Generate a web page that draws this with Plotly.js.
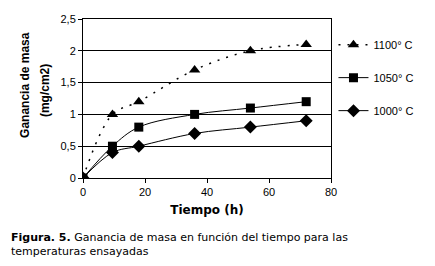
<!DOCTYPE html>
<html>
<head>
<meta charset="utf-8">
<script src="https://cdn.plot.ly/plotly-3.0.1.min.js"></script>
<style>html,body{margin:0;padding:0;background:#fff;}#chart{width:435px;height:266px;}</style>
</head>
<body>
<div id="chart"></div>
<script>
const tiempo = [0, 9.5, 18, 36, 54, 72];
const masa1100 = [0, 1.0, 1.2, 1.7, 2.0, 2.1];
const masa1050 = [0, 0.5, 0.8, 1.0, 1.1, 1.2];
const masa1000 = [0, 0.4, 0.5, 0.7, 0.8, 0.9];
const seriesNames = ['1100° C', '1050° C', '1000° C'];
const yTicks = [0, 0.5, 1, 1.5, 2, 2.5];
const yTickText = ['0', '0,5', '1', '1,5', '2', '2,5'];
const xTicks = [0, 20, 40, 60, 80];
const yTitleLines = ['Ganancia de masa', '(mg/cm2)'];

const traces = [
  {x: tiempo, y: masa1100, name: seriesNames[0], legendgroup: 'a', mode: 'lines+markers',
   line: {color: '#000', width: 1.5, dash: '2px,7px', shape: 'spline', smoothing: 1},
   marker: {symbol: 'triangle-up', size: 10, color: '#000'}},
  {x: tiempo, y: masa1050, name: seriesNames[1], legendgroup: 'b', mode: 'lines+markers',
   line: {color: '#000', width: 1, shape: 'spline', smoothing: 1},
   marker: {symbol: 'square', size: 9, color: '#000'}},
  {x: tiempo, y: masa1000, name: seriesNames[2], legendgroup: 'c', mode: 'lines+markers',
   line: {color: '#000', width: 1, shape: 'spline', smoothing: 1},
   marker: {symbol: 'diamond', size: 10, color: '#000'}}
];

const titleFont = {family: 'Liberation Sans, Arial, sans-serif', size: 12, color: '#000'};

const layout = {
  width: 435, height: 266,
  margin: {l: 83, r: 104, t: 19, b: 88},
  paper_bgcolor: '#fff', plot_bgcolor: '#fff',
  font: {family: 'Liberation Sans, Arial, sans-serif', size: 11, color: '#000'},
  showlegend: true,
  legend: {x: 1.01, y: 0.93, xanchor: 'left', yanchor: 'top', tracegroupgap: 14,
           font: {size: 11}, bgcolor: 'rgba(0,0,0,0)'},
  xaxis: {range: [0, 80], tickvals: xTicks, ticks: 'outside', ticklen: 4, tickcolor: '#000',
          showline: true, linecolor: '#000', linewidth: 1, mirror: true, showgrid: false, zeroline: false,
          title: {text: '<b>Tiempo (h)</b>', font: {family: 'DejaVu Sans, Verdana, sans-serif', size: 12}, standoff: 8}},
  yaxis: {range: [0, 2.5], tickvals: yTicks, ticktext: yTickText, ticks: 'outside', ticklen: 4, tickcolor: '#000',
          showline: true, linecolor: '#000', linewidth: 1, mirror: true,
          showgrid: true, gridcolor: '#000', gridwidth: 1, zeroline: false},
  annotations: [
    {xref: 'paper', yref: 'paper', x: -0.234, y: 0.585, xanchor: 'center', yanchor: 'middle', textangle: -90,
     showarrow: false, font: titleFont, text: '<b>' + yTitleLines[0] + '</b>'},
    {xref: 'paper', yref: 'paper', x: -0.153, y: 0.547, xanchor: 'center', yanchor: 'middle', textangle: -90,
     showarrow: false, font: titleFont, text: '<b>' + yTitleLines[1] + '</b>'},
    {xref: 'paper', yref: 'paper', x: -0.298, y: -0.32, xanchor: 'left', yanchor: 'top', showarrow: false, align: 'left',
     font: {family: 'DejaVu Sans, Verdana, sans-serif', size: 11, color: '#000'},
     text: '<b>Figura. 5.</b> Ganancia de masa en función del tiempo para las<br>temperaturas ensayadas'}
  ]
};

Plotly.newPlot('chart', traces, layout, {staticPlot: true, displayModeBar: false});
</script>
</body>
</html>
